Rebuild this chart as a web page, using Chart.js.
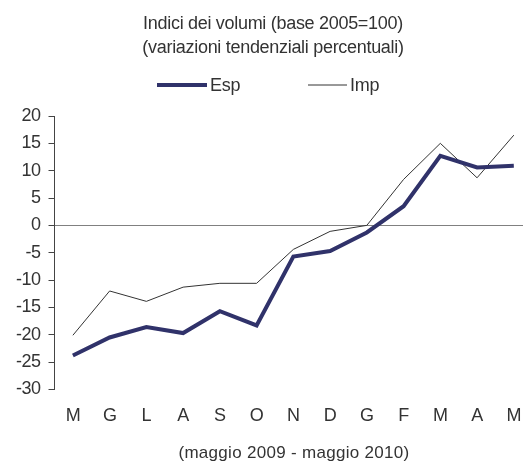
<!DOCTYPE html>
<html>
<head>
<meta charset="utf-8">
<script src="https://cdn.jsdelivr.net/npm/chart.js@4.4.0/dist/chart.umd.min.js"></script>
<style>
  html, body { margin: 0; padding: 0; background: #fff; }
  #wrap { width: 523px; height: 461px; }
</style>
</head>
<body>
<div id="wrap"><canvas id="chart"></canvas></div>
<script>
// mesi maggio 2009 - maggio 2010
var months = ['M', 'G', 'L', 'A', 'S', 'O', 'N', 'D', 'G', 'F', 'M', 'A', 'M'];
var esp = [-23.8, -20.5, -18.6, -19.7, -15.7, -18.3, -5.7, -4.7, -1.3, 3.5, 12.7, 10.6, 10.9];
var imp = [-20.1, -12.0, -13.9, -11.3, -10.6, -10.6, -4.4, -1.1, 0.0, 8.4, 15.0, 8.7, 16.5];
var yTicks = [20, 15, 10, 5, 0, -5, -10, -15, -20, -25, -30];

var titleLines = ['Indici dei volumi (base 2005=100)', '(variazioni tendenziali percentuali)'];
var xTitle = '(maggio 2009 - maggio 2010)';

var textColor = '#333333';
var fontFamily = '"Liberation Sans", Arial, sans-serif';

function toPoints(values) {
    return values.map(function (v, i) { return {x: i, y: v}; });
}

// tick labels are a bit tighter than the default font spacing
var tightText = {
    id: 'tightText',
    beforeLayout: function (chart) { chart.ctx.letterSpacing = '-0.5px'; },
    beforeDraw: function (chart) { chart.ctx.letterSpacing = '-0.5px'; }
};

// title, legend and x caption drawn by hand to match the original placement
var decorations = {
    id: 'decorations',
    afterDraw: function (chart) {
        var ctx = chart.ctx;
        var cx = 273;
        ctx.save();
        ctx.fillStyle = textColor;
        ctx.textAlign = 'center';
        ctx.textBaseline = 'middle';

        ctx.font = '18px ' + fontFamily;
        ctx.letterSpacing = '-0.3px';
        ctx.fillText(titleLines[0], cx, 24);
        ctx.fillText(titleLines[1], cx, 48);

        // legend
        var items = [
            {ds: chart.data.datasets[0], x1: 157, x2: 207},
            {ds: chart.data.datasets[1], x1: 308, x2: 347}
        ];
        ctx.textAlign = 'left';
        items.forEach(function (it) {
            ctx.strokeStyle = it.ds.borderColor;
            ctx.lineWidth = it.ds.borderWidth;
            ctx.beginPath();
            ctx.moveTo(it.x1, 85);
            ctx.lineTo(it.x2, 85);
            ctx.stroke();
            ctx.fillText(it.ds.label, it.x2 + 3, 86);
        });

        ctx.textAlign = 'center';
        ctx.font = '17px ' + fontFamily;
        ctx.letterSpacing = '0.3px';
        ctx.fillText(xTitle, 294, 453);
        ctx.restore();
    }
};

new Chart(document.getElementById('chart'), {
    type: 'line',
    data: {
        datasets: [
            {
                label: 'Esp',
                data: toPoints(esp),
                borderColor: '#30326a',
                backgroundColor: '#30326a',
                borderWidth: 4,
                pointRadius: 0,
                tension: 0
            },
            {
                label: 'Imp',
                data: toPoints(imp),
                borderColor: '#333333',
                backgroundColor: '#333333',
                borderWidth: 1,
                pointRadius: 0,
                tension: 0
            }
        ]
    },
    plugins: [tightText, decorations],
    options: {
        responsive: true,
        maintainAspectRatio: false,
        animation: false,
        layout: {
            padding: {left: 8, right: 0, top: 116, bottom: 34}
        },
        plugins: {
            title: {display: false},
            legend: {display: false},
            tooltip: {enabled: false}
        },
        scales: {
            x: {
                type: 'linear',
                min: -0.5,
                max: 12.25,
                afterBuildTicks: function (scale) {
                    scale.ticks = months.map(function (m, i) { return {value: i}; });
                },
                ticks: {
                    color: textColor,
                    font: {family: fontFamily, size: 18},
                    padding: 0,
                    autoSkip: false,
                    maxRotation: 0,
                    callback: function (value) { return months[value]; }
                },
                grid: {
                    display: true,
                    drawOnChartArea: false,
                    drawTicks: true,
                    tickLength: 16,
                    color: 'rgba(0,0,0,0)'
                },
                border: {display: false}
            },
            y: {
                min: -30,
                max: 20,
                afterBuildTicks: function (scale) {
                    scale.ticks = yTicks.map(function (v) { return {value: v}; });
                },
                ticks: {
                    color: textColor,
                    font: {family: fontFamily, size: 18},
                    padding: 8,
                    autoSkip: false
                },
                grid: {
                    drawOnChartArea: true,
                    tickLength: 6,
                    tickColor: '#444444',
                    color: function (ctx) {
                        return ctx.tick && ctx.tick.value === 0 ? '#808080' : 'rgba(0,0,0,0)';
                    }
                },
                border: {display: true, color: '#444444', width: 1}
            }
        }
    }
});
</script>
</body>
</html>
